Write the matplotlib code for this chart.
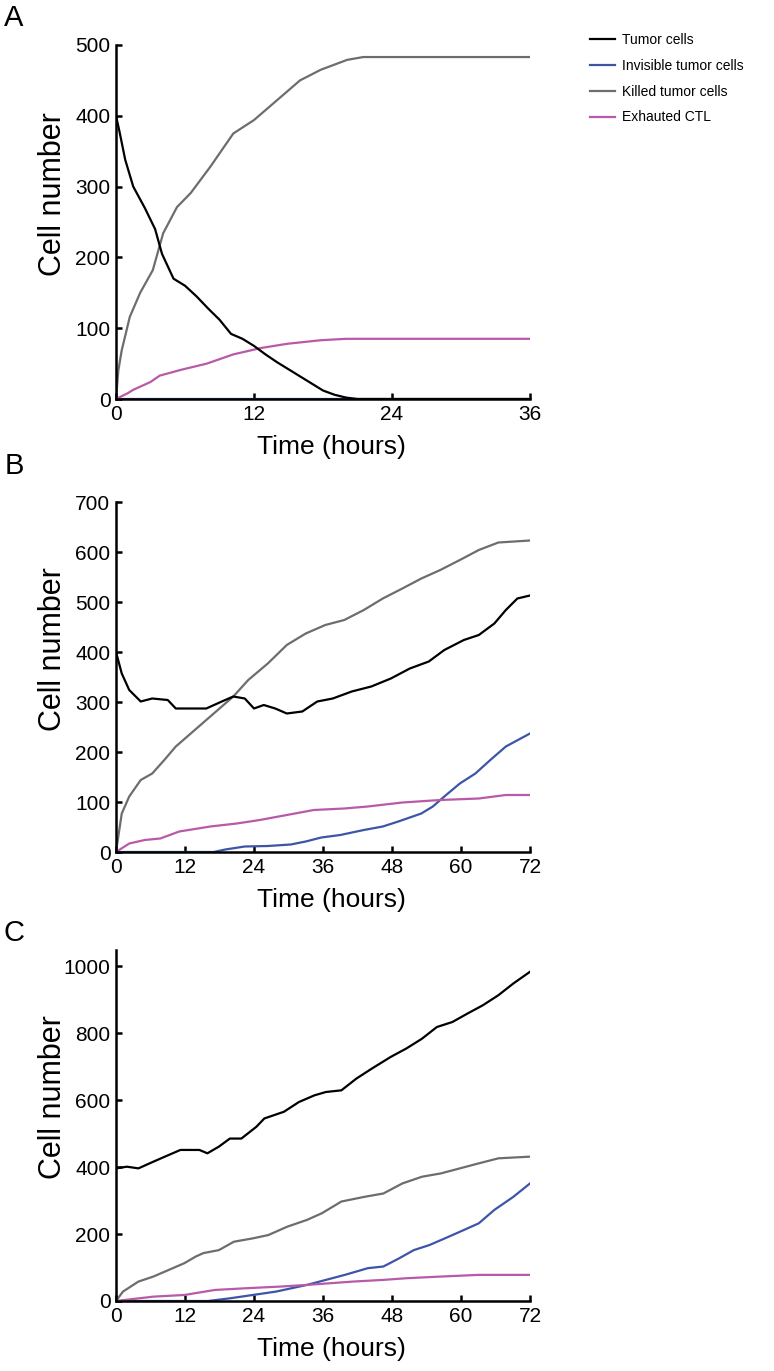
import numpy as np
import matplotlib
matplotlib.use('Agg')
import matplotlib.pyplot as plt

plt.rcParams['font.family'] = ['Liberation Sans', 'DejaVu Sans']

# colors of the four series
c_tumor = '#000000'
c_invis = '#3d55a6'
c_kill = '#6d6d6d'
c_exh = '#b85aa8'
labels = ['Tumor cells', 'Invisible tumor cells', 'Killed tumor cells', 'Exhauted CTL']

# ---- panel A (0-36 h)
tA_tum = [0, 0.3, 0.8, 1.5, 2.5, 3.4, 4, 5, 6, 7, 8, 9, 10, 11, 12, 13, 14, 15, 16, 17, 18, 19, 20, 21, 36]
vA_tum = [400, 378, 338, 300, 270, 240, 205, 170, 160, 145, 128, 112, 92, 85, 75, 63, 52, 42, 32, 22, 12, 6, 2, 0, 0]
tA_inv = [0, 36]
vA_inv = [0, 0]
tA_kill = [0, 0.2, 0.5, 1.2, 2.1, 3.2, 4.1, 5.3, 6.5, 8.2, 10.2, 12, 14, 16, 17.8, 20.1, 21.5, 36]
vA_kill = [0, 40, 69, 116, 150, 182, 234, 271, 291, 328, 375, 394, 422, 450, 465, 479, 483, 483]
tA_exh = [0, 1, 1.5, 3, 3.8, 5.6, 7.9, 10.2, 12.6, 14.9, 17.8, 20, 36]
vA_exh = [0, 8, 13, 24, 33, 41, 50, 63, 72, 78, 83, 85, 85]

# ---- panel B (0-72 h)
tB_tum = [0, 1, 2.3, 4.3, 6.3, 9, 10.4, 13, 15.7, 18.4, 20.4, 22.4, 24, 25.7, 27.7, 29.7, 32.4, 35, 37.7,
          41, 44.4, 47.8, 51.1, 54.4, 57.1, 60.5, 63.1, 65.8, 67.8, 69.8, 72]
vB_tum = [400, 357, 324, 301, 307, 304, 287, 287, 287, 301, 311, 307, 287, 294, 287, 277, 281, 301, 307,
          321, 331, 347, 367, 381, 404, 424, 434, 457, 484, 507, 513]
tB_inv = [0, 17, 19, 22.4, 26.4, 30.4, 33, 35.7, 39, 43.1, 46.4, 49.1, 53.1, 55.1, 57.1, 59.8, 62.5, 65.1, 67.8, 72]
vB_inv = [0, 0, 5, 11, 12, 15, 21, 29, 34, 44, 51, 61, 77, 91, 111, 137, 157, 184, 211, 237]
tB_kill = [0, 1, 2.3, 4.3, 6.3, 8.4, 10.4, 13, 17, 20.4, 23, 26.4, 29.7, 33, 36.4, 39.7, 43.1, 46.4, 49.8,
           53.1, 56.4, 59.8, 63.1, 66.5, 72]
vB_kill = [0, 77, 111, 144, 157, 184, 211, 237, 277, 311, 344, 377, 414, 437, 454, 464, 484, 507, 527,
           547, 564, 584, 604, 619, 623]
tB_exh = [0, 2.3, 5, 7.7, 11, 16.4, 21, 25, 29.7, 34.4, 39.7, 43.8, 49.8, 56.4, 63.1, 67.8, 72]
vB_exh = [0, 17, 24, 27, 41, 51, 57, 64, 74, 84, 87, 91, 99, 104, 107, 114, 114]

# ---- panel C (0-72 h)
tC_tum = [0, 1.9, 3.9, 6.5, 8.5, 11.2, 14.5, 15.9, 17.9, 19.8, 21.8, 24.4, 25.8, 29.2, 31.8, 34.5, 36.5,
          39.2, 41.8, 44.5, 47.8, 50.5, 53.2, 55.8, 58.5, 61.1, 63.8, 66.5, 69.1, 72]
vC_tum = [396, 401, 396, 416, 431, 451, 451, 441, 461, 485, 485, 520, 545, 565, 594, 614, 624,
          629, 664, 694, 729, 754, 783, 818, 833, 858, 883, 913, 948, 983]
tC_inv = [0, 16, 19.8, 23.8, 27.8, 30.5, 33.2, 36.5, 39.8, 43.8, 46.5, 49.2, 51.8, 54.5, 57.2, 60.5,
          63.1, 65.8, 69.1, 72]
vC_inv = [0, 0, 8, 18, 28, 38, 48, 63, 78, 98, 103, 127, 152, 167, 187, 212, 232, 272, 311, 351]
tC_kill = [0, 1.2, 3.9, 6.5, 9.2, 11.9, 13.9, 15.2, 17.9, 20.5, 23.8, 26.5, 29.8, 33.2, 35.8, 39.2, 43.2,
           46.5, 49.8, 53.2, 56.5, 59.8, 63.1, 66.5, 72]
vC_kill = [0, 28, 58, 73, 93, 113, 133, 143, 152, 177, 187, 197, 222, 242, 262, 297, 311,
           321, 351, 371, 381, 396, 411, 426, 431]
tC_exh = [0, 6.5, 11.9, 17.2, 22.5, 28.5, 33.2, 37.2, 41.2, 46.5, 50.5, 56.5, 63.1, 72]
vC_exh = [0, 13, 18, 33, 38, 43, 48, 53, 58, 63, 68, 73, 78, 78]

panels = [
    ('A', [(tA_tum, vA_tum), (tA_inv, vA_inv), (tA_kill, vA_kill), (tA_exh, vA_exh)],
     36, [0, 12, 24, 36], 500, [0, 100, 200, 300, 400, 500]),
    ('B', [(tB_tum, vB_tum), (tB_inv, vB_inv), (tB_kill, vB_kill), (tB_exh, vB_exh)],
     72, [0, 12, 24, 36, 48, 60, 72], 700, [0, 100, 200, 300, 400, 500, 600, 700]),
    ('C', [(tC_tum, vC_tum), (tC_inv, vC_inv), (tC_kill, vC_kill), (tC_exh, vC_exh)],
     72, [0, 12, 24, 36, 48, 60, 72], 1048, [0, 200, 400, 600, 800, 1000]),
]

W, H = 774, 1371
fig = plt.figure(figsize=(W / 100, H / 100), dpi=100)

# axes boxes in pixels: (top, bottom), and panel letter y
boxes = [(45, 399, 18), (502, 852, 466), (950, 1301, 933)]
x0, x1 = 116, 530
colors = [c_tumor, c_invis, c_kill, c_exh]
order = [1, 3, 2, 0]   # draw order: blue, magenta, gray, black on top

lines = None
for (name, series, xmax, xt, ymax, yt), (top, bot, ly) in zip(panels, boxes):
    ax = fig.add_axes([x0 / W, 1 - bot / H, (x1 - x0) / W, (bot - top) / H])
    hs = [None] * 4
    for i in order:
        t, v = series[i]
        hs[i], = ax.plot(t, v, color=colors[i], lw=1.6, zorder=3 if i == 0 else 2)
    lines = hs
    ax.set_xlim(0, xmax)
    ax.set_ylim(0, ymax)
    ax.set_xticks(xt)
    ax.set_yticks(yt)
    for s in ['top', 'right']:
        ax.spines[s].set_visible(False)
    for s in ['left', 'bottom']:
        ax.spines[s].set_linewidth(1.8)
    ax.tick_params(direction='in', length=4, width=1.8, labelsize=15, pad=4)
    ax.set_xlabel('Time (hours)', fontsize=19, va='center')
    ax.xaxis.set_label_coords(0.52, -48 / (bot - top))
    ax.set_ylabel('Cell number', fontsize=22, va='center')
    ax.yaxis.set_label_coords(-63 / (x1 - x0), 0.58)
    fig.text(14 / W, 1 - ly / H, name, fontsize=21, ha='center', va='center')

fig.legend(lines, labels, loc='upper left', bbox_to_anchor=(590 / W, 1 - 33 / H),
           frameon=False, fontsize=10, handlelength=1.8, handletextpad=0.5,
           labelspacing=0.85, borderaxespad=0, borderpad=0)

fig.savefig('out.png', dpi=100)
